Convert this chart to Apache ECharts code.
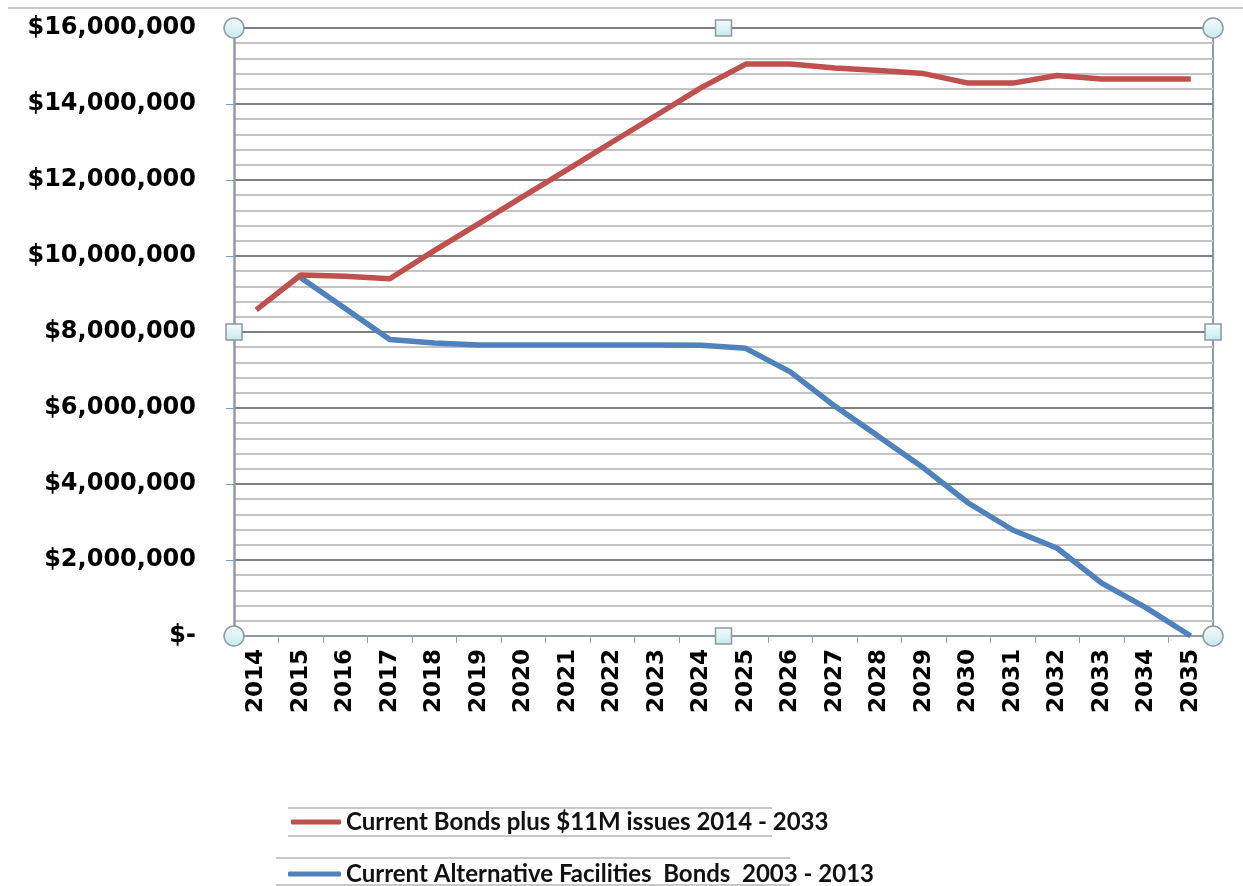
<!DOCTYPE html>
<html lang="en">
<head>
    <meta charset="utf-8">
    <title>Bonds chart</title>
    <script src="https://cdn.jsdelivr.net/npm/echarts@6/dist/echarts.min.js"></script>
    <style>
        html, body { margin: 0; padding: 0; background: #fff; }
        #main { width: 1243px; height: 886px; }
    </style>
</head>
<body>
<div id="main"></div>
<script type="text/javascript">
    // categories
    var years = ['2014', '2015', '2016', '2017', '2018', '2019', '2020', '2021', '2022', '2023', '2024',
        '2025', '2026', '2027', '2028', '2029', '2030', '2031', '2032', '2033', '2034', '2035'];

    // series values
    var bondsPlus11M = [8580000, 9500000, 9470000, 9400000, 10140000, 10850000, 11570000, 12280000, 13000000,
        13710000, 14430000, 15050000, 15050000, 14950000, 14880000, 14800000, 14550000, 14550000, 14750000,
        14660000, 14660000, 14660000];
    var altFacilities = [null, 9430000, 8620000, 7800000, 7710000, 7660000, 7660000, 7660000, 7660000, 7660000,
        7650000, 7570000, 6950000, 6050000, 5240000, 4420000, 3500000, 2790000, 2310000, 1390000, 740000, 0];

    var seriesNames = ['Current Bonds plus $11M issues 2014 - 2033', 'Current Alternative Facilities  Bonds  2003 - 2013'];

    // y axis ticks
    var yMin = 0, yMax = 16000000, yStep = 2000000;

    var gridLeft = 234, gridTop = 28, gridRight = 1213, gridBottom = 636;

    var chart = echarts.init(document.getElementById('main'));

    // Excel style selection handles around the plot area
    function handle(type, x, y) {
        var style = { fill: { type: 'linear', x: 0, y: 0, x2: 0, y2: 1,
                colorStops: [{ offset: 0, color: '#f4fcfd' }, { offset: 1, color: '#c6e8ee' }] },
            stroke: '#8c9aa0', lineWidth: 1.5 };
        if (type === 'c') {
            return { type: 'circle', shape: { cx: x, cy: y, r: 10 }, style: style, z: 100 };
        }
        return { type: 'rect', shape: { x: x - 8, y: y - 8, width: 16, height: 16 }, style: style, z: 100 };
    }
    var midX = (gridLeft + gridRight) / 2, midY = (gridTop + gridBottom) / 2;

    var legendText = {
        fontFamily: 'Lato',
        fontSize: 24,
        fontWeight: 'bold',
        color: '#111'
    };

    var option = {
        backgroundColor: '#fff',
        animation: false,
        grid: {
            left: gridLeft,
            top: gridTop,
            right: 1243 - gridRight,
            bottom: 886 - gridBottom,
            containLabel: false
        },
        // one legend box per row, like the stacked excel legend
        legend: [
            {
                left: 286, top: 805,
                itemWidth: 50, itemHeight: 5, icon: 'roundRect',
                textStyle: legendText,
                data: [seriesNames[0]]
            },
            {
                left: 283, top: 857,
                itemWidth: 53, itemHeight: 5, icon: 'roundRect',
                textStyle: legendText,
                data: [seriesNames[1]]
            }
        ],
        xAxis: {
            type: 'category',
            data: years,
            boundaryGap: true,
            axisLine: { lineStyle: { color: '#8f9aa6', width: 2 } },
            axisTick: { show: true, length: 7, lineStyle: { color: '#9aa3ad', width: 1 } },
            axisLabel: {
                rotate: 90,
                interval: 0,
                margin: 13,
                fontFamily: 'DejaVu Sans',
                fontWeight: 'bold',
                fontSize: 23,
                color: '#000'
            },
            splitLine: { show: false }
        },
        yAxis: {
            type: 'value',
            min: yMin,
            max: yMax,
            interval: yStep,
            axisLine: { show: true, lineStyle: { color: '#8f9aa6', width: 2.5 } },
            axisTick: { show: true, length: 8, lineStyle: { color: '#7f9fd0', width: 1 } },
            axisLabel: {
                margin: 38,
                fontFamily: 'DejaVu Sans',
                fontWeight: 'bold',
                fontSize: 24,
                color: '#000',
                formatter: function (v) {
                    if (v === 0) return '$-';
                    return '$' + v.toLocaleString('en-US');
                }
            },
            splitLine: { show: true, lineStyle: { color: '#808080', width: 2 } },
            minorTick: { show: false, splitNumber: 5 },
            minorSplitLine: { show: true, lineStyle: { color: '#c4c4c4', width: 2 } }
        },
        series: [
            {
                name: seriesNames[0],
                type: 'line',
                data: bondsPlus11M,
                showSymbol: false,
                symbol: 'none',
                color: '#c0504d',
                lineStyle: { width: 5.5, color: '#c0504d' },
                z: 3
            },
            {
                name: seriesNames[1],
                type: 'line',
                data: altFacilities,
                showSymbol: false,
                symbol: 'none',
                color: '#4f81bd',
                lineStyle: { width: 5.5, color: '#4f81bd' },
                z: 2
            }
        ],
        graphic: [
            // top page border line
            { type: 'line', shape: { x1: 8, y1: 8, x2: 1243, y2: 8 }, style: { stroke: '#c8c8c8', lineWidth: 2 } },
            // right border of plot area
            { type: 'line', shape: { x1: gridRight, y1: gridTop, x2: gridRight, y2: gridBottom },
                style: { stroke: '#8f9aa6', lineWidth: 2 } },
            // legend entry frames
            { type: 'line', shape: { x1: 288, y1: 808, x2: 772, y2: 808 }, style: { stroke: '#c8c8c8', lineWidth: 2 } },
            { type: 'line', shape: { x1: 288, y1: 836, x2: 772, y2: 836 }, style: { stroke: '#c8c8c8', lineWidth: 2 } },
            { type: 'line', shape: { x1: 276, y1: 858, x2: 790, y2: 858 }, style: { stroke: '#c8c8c8', lineWidth: 2 } },
            { type: 'line', shape: { x1: 276, y1: 885, x2: 790, y2: 885 }, style: { stroke: '#c8c8c8', lineWidth: 2 } },
            handle('c', gridLeft, gridTop),
            handle('c', gridRight, gridTop),
            handle('c', gridLeft, gridBottom),
            handle('c', gridRight, gridBottom),
            handle('s', midX, gridTop),
            handle('s', midX, gridBottom),
            handle('s', gridLeft, midY),
            handle('s', gridRight, midY)
        ]
    };
    chart.setOption(option);
</script>
</body>
</html>
